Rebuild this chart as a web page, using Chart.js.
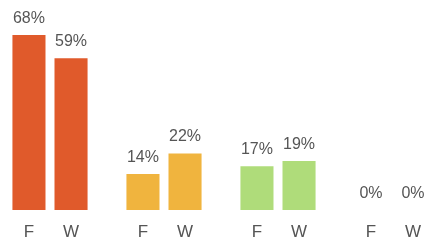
<!DOCTYPE html>
<html>
<head>
<meta charset="utf-8">
<script src="https://cdn.jsdelivr.net/npm/chart.js@4"></script>
<style>
    html, body { margin: 0; padding: 0; background: #fff; }
    #wrap { width: 430px; height: 244px; position: relative; }
</style>
</head>
<body>
<div id="wrap"><canvas id="bar_chart"></canvas></div>
<script>
// groups (no visible names in the picture)
var groups = ['1', '2', '3', '4'];
var series_names = ['F', 'W'];
var f_values = [68, 14, 17, 0];
var w_values = [59, 22, 19, 0];
var group_colors = ['#e05a2b', '#f0b43e', '#afdc7a'];

/*
 * Plugin that writes the value above each bar and the series name under it
 */
var barLabels = {
    id: 'barLabels',
    afterDatasetsDraw: function(chart) {
        const ctx = chart.ctx;
        ctx.save();
        ctx.fillStyle = '#555';
        ctx.textAlign = 'center';
        ctx.textBaseline = 'alphabetic';
        chart.data.datasets.forEach(function(ds, i) {
            const meta = chart.getDatasetMeta(i);
            meta.data.forEach(function(bar, j) {
                ctx.font = '16px "Liberation Sans", Arial, sans-serif';
                ctx.fillText(ds.data[j] + '%', bar.x, bar.y - 12);
                ctx.font = '17px "Liberation Sans", Arial, sans-serif';
                ctx.fillText(ds.label, bar.x, bar.base + 27);
            });
        });
        ctx.restore();
    }
};

function createChart() {
    const data = {
        labels: groups,
        datasets: [{
            label: series_names[0],
            backgroundColor: group_colors,
            data: f_values,
            clip: false,
        }, {
            label: series_names[1],
            backgroundColor: group_colors,
            data: w_values,
            clip: false,
        }]
    };
    const config = {
        type: 'bar',
        data: data,
        options: {
            responsive: true,
            maintainAspectRatio: false,
            animation: false,
            layout: {
                padding: { left: 50, right: 38, top: 0, bottom: 34 }
            },
            datasets: {
                bar: {
                    categoryPercentage: 0.738,
                    barPercentage: 0.786,
                }
            },
            scales: {
                x: {
                    display: false,
                    offset: false,
                },
                y: {
                    display: false,
                    min: 0,
                    max: 81.6,
                }
            },
            plugins: {
                legend: { display: false },
                tooltip: { enabled: false },
            }
        },
        plugins: [barLabels]
    };
    const myChart = new Chart(document.getElementById('bar_chart'), config);
}

createChart();
</script>
</body>
</html>
